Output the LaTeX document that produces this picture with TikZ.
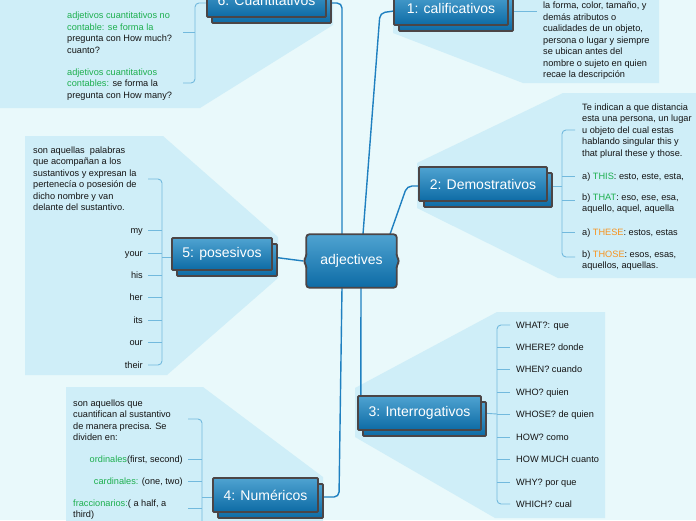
\documentclass[tikz,border=0pt]{standalone}
\usepackage{fontspec}
\setmainfont{Liberation Sans}
\usetikzlibrary{calc}
\definecolor{bg}{HTML}{E9F9FB}
\definecolor{panel}{HTML}{CFEEF8}
\definecolor{boxborder}{HTML}{4B4546}
\definecolor{boxtop}{HTML}{4FA3D1}
\definecolor{boxbot}{HTML}{0D6BA5}
\definecolor{mainline}{HTML}{1F80C0}
\definecolor{subline}{HTML}{72B9DD}
\definecolor{txtgreen}{HTML}{1DAF4E}
\definecolor{txtorange}{HTML}{F7931E}
\definecolor{txt}{HTML}{141414}
\tikzset{
  boxstyle/.style={draw=boxborder, line width=1.8pt, top color=boxtop, bottom color=boxbot, inner sep=0pt, rounded corners=1pt},
  branch/.style={boxstyle, text=white, font=\fontsize{14}{16}\selectfont},
  mainconn/.style={draw=mainline, line width=1.4pt, rounded corners=5pt},
  subconn/.style={draw=subline, line width=0.9pt, rounded corners=4pt},
  body/.style={font=\fontsize{9.2}{11.5}\selectfont, text=txt, inner sep=0pt, align=left},
  panelfill/.style={fill=panel, draw=none},
}
\newcommand{\brbox}[6]{%
  \node[boxstyle, minimum width=#4pt, minimum height=#5pt] (#1s) at (#2+5,#3+6) {};
  \node[branch, minimum width=#4pt, minimum height=#5pt] (#1) at (#2,#3) {#6};
}
\begin{document}
\begin{tikzpicture}[x=1pt,y=-1pt]
\useasboundingbox (0,0) rectangle (696,520);
\clip (0,0) rectangle (696,520);
\fill[bg] (0,0) rectangle (696,520);
% panels
\path[panelfill] (0,0) -- (333,0) -- (333,25) -- (200,108) -- (0,108) -- cycle;
\path[panelfill] (393,0) -- (393,33) -- (523,83) -- (659,83) -- (659,0) -- cycle;
\path[panelfill] (417,163) -- (563,93) -- (696,93) -- (696,278) -- (558,278) -- (417,208) -- cycle;
\path[panelfill] (355,388) -- (497,312) -- (605,312) -- (605,518) -- (495,518) -- (355,437) -- cycle;
\path[panelfill] (25,136) -- (163,136) -- (278,237) -- (278,278) -- (167,375) -- (25,375) -- cycle;
\path[panelfill] (66,387) -- (203,387) -- (323,477) -- (323,525) -- (66,525) -- cycle;
% central node anchor box
\node[minimum width=90pt, minimum height=53pt, inner sep=0pt] (adj) at (351.5,261) {};
% branch anchor boxes
\path (266.5,0.5) coordinate (p6) (451,8.5) coordinate (p1) (483,184) coordinate (p2)
      (419.5,413) coordinate (p3) (265.5,495) coordinate (p4) (222,254) coordinate (p5);
\node[minimum width=119pt, minimum height=33pt, inner sep=0pt] (a6) at (p6) {};
\node[minimum width=114pt, minimum height=33pt, inner sep=0pt] (a1) at (p1) {};
\node[minimum width=128pt, minimum height=34pt, inner sep=0pt] (a2) at (p2) {};
\node[minimum width=123pt, minimum height=34pt, inner sep=0pt] (a3) at (p3) {};
\node[minimum width=105pt, minimum height=34pt, inner sep=0pt] (a4) at (p4) {};
\node[minimum width=100pt, minimum height=32pt, inner sep=0pt] (a5) at (p5) {};
% main connectors
\draw[mainconn] ([xshift=-9.5pt]adj.north) |- ([yshift=-2.5pt]a6.east);
\draw[mainconn] ([xshift=11.5pt]adj.north) -- (380,13) -- ([yshift=-2.5pt]a1.west);
\draw[mainconn] ([xshift=38.5pt]adj.north) -- (407,186) -- ([yshift=-2pt]a2.west);
\draw[mainconn] ([yshift=-3pt]a5.east) -- ($(adj.west)+(-3,0)$);
\draw[mainconn] ([xshift=9.5pt]adj.south) -- ([xshift=3pt]a3.north west);
\draw[mainconn] ([xshift=-9.5pt]adj.south) -- (339,497) -- ([yshift=-2pt]a4.east);
% sub connectors 6
\draw[subconn] ([yshift=-2.5pt]a6.west) -- (195,3) -- (195,83) -- (183,83);
\draw[subconn] (183,32) -- (195,32);
% 1
\draw[subconn] ([yshift=-2.5pt]a1.east) -- (537,11);
% 2
\draw[subconn] ([yshift=-2pt]a2.east) -- (562,186);
\draw[subconn] (575,130) -- (562,130) -- (562,257) -- (575,257);
\foreach \yy in {176,200,232} \draw[subconn] (562,\yy) -- (575,\yy);
% 3
\draw[subconn] (a3.east) -- (497,414);
\draw[subconn] (510,325) -- (497,325) -- (497,504) -- (510,504);
\foreach \yy in {347,369,392,414,437,459,482} \draw[subconn] (497,\yy) -- (510,\yy);
% 5
\draw[subconn] ([yshift=-3pt]a5.west) -- (162,257);
\draw[subconn] (148,179) -- (162,179) -- (162,365) -- (148,365);
\foreach \yy in {230,253,275,297,320,342} \draw[subconn] (148,\yy) -- (162,\yy);
% 4
\draw[subconn] ([yshift=-2pt]a4.west) -- (202,497);
\draw[subconn] (188,419) -- (202,419) -- (202,530);
\foreach \yy in {459,481,508} \draw[subconn] (188,\yy) -- (202,\yy);
% branch boxes
\brbox{b6}{266.5}{0.5}{119}{33}{6: Cuantitativos}
\brbox{b1}{451}{8.5}{114}{33}{1: calificativos}
\brbox{b2}{483}{184}{128}{34}{2: Demostrativos}
\brbox{b3}{419.5}{413}{123}{34}{3: Interrogativos}
\brbox{b4}{265.5}{495}{105}{34}{4: Numéricos}
\brbox{b5}{222}{254}{100}{32}{5: posesivos}
% central node shape
\path[draw=boxborder, line width=1.8pt, top color=boxtop, bottom color=boxbot, rounded corners=3pt]
  (adj.north west) -- (adj.north east) -- ($(adj.east)+(0,-4)$) -- ($(adj.east)+(3,0)$) -- ($(adj.east)+(0,4)$)
  -- (adj.south east) -- (adj.south west) -- ($(adj.west)+(0,4)$) -- ($(adj.west)+(-3,0)$) -- ($(adj.west)+(0,-4)$) -- cycle;
\node[text=white, font=\fontsize{14}{16}\selectfont] (adjt) at (adj.center) {adjectives};
% texts 6 (anchor = baseline of last line)
\node[body, anchor=base west] (t6a) at (67,53) {\textcolor{txtgreen}{adjetivos cuantitativos no}\\\textcolor{txtgreen}{contable: se forma la}\\pregunta con How much?\\cuanto?};
\node[body, anchor=base west] (t6b) at (67,98) {\textcolor{txtgreen}{adjetivos cuantitativos}\\\textcolor{txtgreen}{contables:} se forma la\\pregunta con How many?};
% texts 1
\node[body, anchor=base west] (t1) at (543,77.5) {la forma, color, tamaño, y\\demás atributos o\\cualidades de un objeto,\\persona o lugar y siempre\\se ubican antes del\\nombre o sujeto en quien\\recae la descripción};
% texts 2
\node[body, anchor=base west] (t2a) at (582,156) {Te indican a que distancia\\esta una persona, un lugar\\u objeto del cual estas\\hablando singular this y\\that plural these y those.};
\node[body, anchor=base west] (t2b) at (582,179) {a) \textcolor{txtgreen}{THIS}: esto, este, esta,};
\node[body, anchor=base west] (t2c) at (582,211.5) {b) \textcolor{txtgreen}{THAT}: eso, ese, esa,\\aquello, aquel, aquella};
\node[body, anchor=base west] (t2d) at (582,235) {a) \textcolor{txtorange}{THESE}: estos, estas};
\node[body, anchor=base west] (t2e) at (582,268.5) {b) \textcolor{txtorange}{THOSE}: esos, esas,\\aquellos, aquellas.};
% texts 3
\node[body, anchor=base west] (t3a) at (516,328) {WHAT?: que};
\node[body, anchor=base west] (t3b) at (516,350) {WHERE? donde};
\node[body, anchor=base west] (t3c) at (516,372) {WHEN? cuando};
\node[body, anchor=base west] (t3d) at (516,395) {WHO? quien};
\node[body, anchor=base west] (t3e) at (516,417) {WHOSE? de quien};
\node[body, anchor=base west] (t3f) at (516,440) {HOW? como};
\node[body, anchor=base west] (t3g) at (516,462) {HOW MUCH cuanto};
\node[body, anchor=base west] (t3h) at (516,485) {WHY? por que};
\node[body, anchor=base west] (t3i) at (516,507) {WHICH? cual};
% texts 5
\node[body, anchor=base west] (t5) at (33,210.5) {son aquellas\ \ palabras\\que acompañan a los\\sustantivos y expresan la\\pertenecía o posesión de\\dicho nombre y van\\delante del sustantivo.};
\node[body, anchor=base east] (t5a) at (143,233) {my};
\node[body, anchor=base east] (t5b) at (143,256) {your};
\node[body, anchor=base east] (t5c) at (143,278) {his};
\node[body, anchor=base east] (t5d) at (143,300) {her};
\node[body, anchor=base east] (t5e) at (143,323) {its};
\node[body, anchor=base east] (t5f) at (143,345) {our};
\node[body, anchor=base east] (t5g) at (143,368) {their};
% texts 4
\node[body, anchor=base west] (t4a) at (73,440.5) {son aquellos que\\cuantifican al sustantivo\\de manera precisa. Se\\dividen en:};
\node[body, anchor=base east] (t4b) at (183,462) {\textcolor{txtgreen}{ordinales}(first, second)};
\node[body, anchor=base east] (t4c) at (183,484) {\textcolor{txtgreen}{cardinales:} (one, two)};
\node[body, anchor=base west] (t4d) at (73,517.5) {\textcolor{txtgreen}{fraccionarios:}( a half, a\\third)};
\end{tikzpicture}
\end{document}
